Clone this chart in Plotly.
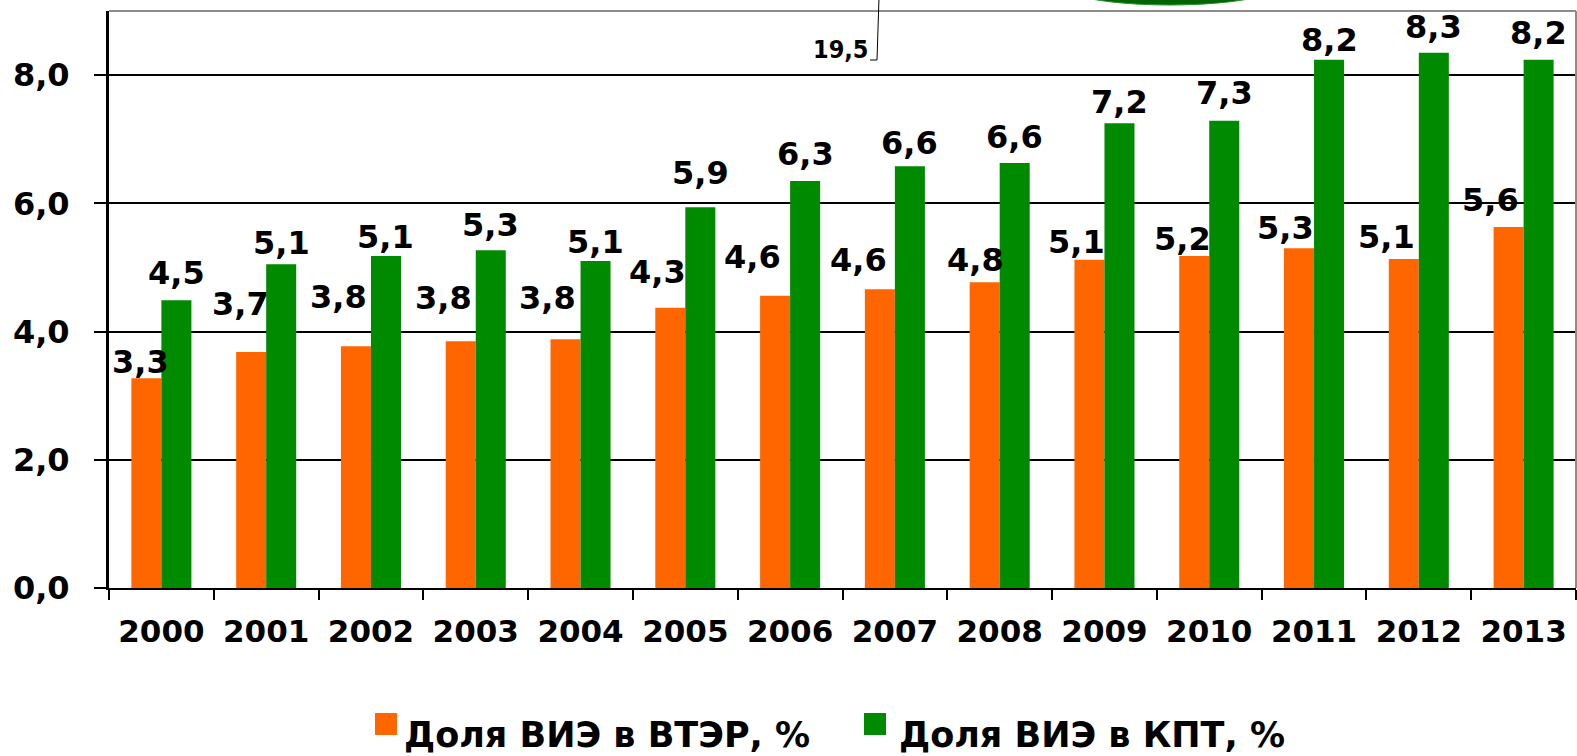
import plotly.graph_objects as go

years = ["2000", "2001", "2002", "2003", "2004", "2005", "2006",
         "2007", "2008", "2009", "2010", "2011", "2012", "2013"]
share_vter = [3.27, 3.68, 3.77, 3.85, 3.88, 4.37, 4.56, 4.66, 4.77, 5.12, 5.18, 5.30, 5.13, 5.63]
share_kpt = [4.49, 5.05, 5.18, 5.27, 5.10, 5.94, 6.35, 6.58, 6.63, 7.25, 7.29, 8.24, 8.35, 8.24]
labels_vter = ["3,3", "3,7", "3,8", "3,8", "3,8", "4,3", "4,6", "4,6", "4,8", "5,1", "5,2", "5,3", "5,1", "5,6"]
labels_kpt = ["4,5", "5,1", "5,1", "5,3", "5,1", "5,9", "6,3", "6,6", "6,6", "7,2", "7,3", "8,2", "8,3", "8,2"]
series_names = ["Доля ВИЭ в ВТЭР, %", "Доля ВИЭ в КПТ, %"]
y_ticks = [0, 2, 4, 6, 8]
y_ticktext = ["0,0", "2,0", "4,0", "6,0", "8,0"]

# label placement (pixel offsets, style only)
dx_vter = [-6, -11, -17, -17, -18, -13, -23, -21, -9, -13, -12, -14, -17, -18]
dy_vter = [16, 48, 49, 43, 41, 36, 39, 29, 22, 18, 17, 20, 22, 27]
dy_kpt = [27, 21, 19, 25, 19, 34, 27, 23, 26, 21, 28, 20, 26, 27]

ORANGE = "#FF6600"
GREEN = "#008A00"
FONT = "DejaVu Sans"

W, H = 1577, 756
ML, MR, MT, MB = 109, 1, 11, 168
PW, PH = W - ML - MR, H - MT - MB


def px(x):
    return (x - ML) / PW


def py(y):
    return (H - MB - y) / PH


fig = go.Figure()
fig.add_trace(go.Bar(x=years, y=share_vter, name=series_names[0],
                     marker=dict(color=ORANGE, line=dict(width=0)), showlegend=False))
fig.add_trace(go.Bar(x=years, y=share_kpt, name=series_names[1],
                     marker=dict(color=GREEN, line=dict(width=0)), showlegend=False))

annotations = []
lab_font = dict(family=FONT, size=32, color="black", weight="bold")
for i, yr in enumerate(years):
    # category axis: annotation x given as the category's serial index
    annotations.append(dict(x=i, y=share_vter[i], xref="x", yref="y", text=labels_vter[i],
                            showarrow=False, xanchor="center", yanchor="middle",
                            xshift=-15 + dx_vter[i], yshift=dy_vter[i], font=lab_font))
    annotations.append(dict(x=i, y=share_kpt[i], xref="x", yref="y", text=labels_kpt[i],
                            showarrow=False, xanchor="center", yanchor="middle",
                            xshift=15, yshift=dy_kpt[i], font=lab_font))

# custom legend
leg_font = dict(family=FONT, size=35, color="black", weight="bold")
shapes = []
for sq_x, txt_x, col, name in [(375, 402, ORANGE, series_names[0]), (864, 897, GREEN, series_names[1])]:
    shapes.append(dict(type="rect", xref="paper", yref="paper",
                       x0=px(sq_x), x1=px(sq_x + 22), y0=py(735), y1=py(713),
                       fillcolor=col, line=dict(width=0)))
    annotations.append(dict(x=px(txt_x), y=py(735), xref="paper", yref="paper", text=name,
                            showarrow=False, xanchor="left", yanchor="middle", font=leg_font))

# plot-area border (top and right, gray)
shapes.append(dict(type="line", xref="paper", yref="paper", x0=0, x1=1, y0=1, y1=1,
                   line=dict(color="#8C8C8C", width=2)))
shapes.append(dict(type="line", xref="paper", yref="paper", x0=1, x1=1, y0=0, y1=1,
                   line=dict(color="#8C8C8C", width=2)))

# cropped fragments from the slide above the chart
shapes.append(dict(type="circle", xref="paper", yref="paper",
                   x0=px(1060), x1=px(1280), y0=py(5), y1=py(-35),
                   fillcolor="#006400", line=dict(color="#2E8B2E", width=1)))
shapes.append(dict(type="path", xref="paper", yref="paper",
                   path=f"M {px(879)},{py(-2)} L {px(877)},{py(60)} L {px(870)},{py(60)}",
                   line=dict(color="black", width=1)))
annotations.append(dict(x=px(841), y=py(50), xref="paper", yref="paper", text="19,5",
                        showarrow=False, xanchor="center", yanchor="middle",
                        font=dict(family="DejaVu Sans Condensed", size=25, color="black", weight="bold")))

fig.update_layout(
    width=W, height=H,
    margin=dict(l=ML, r=MR, t=MT, b=MB, autoexpand=False),
    paper_bgcolor="white", plot_bgcolor="white",
    barmode="group", bargap=0.427, bargroupgap=0,
    showlegend=False,
    annotations=annotations, shapes=shapes,
)
fig.update_xaxes(type="category", range=[-0.5, len(years) - 0.5], tickson="boundaries",
                 ticks="outside", ticklen=10, tickwidth=2, tickangle=0,
                 tickcolor="black", showline=True, linecolor="black", linewidth=2,
                 showgrid=False, ticklabelstandoff=15,
                 tickfont=dict(family=FONT, size=31, color="black", weight="bold"))
fig.update_yaxes(range=[0, 9], tickvals=y_ticks, ticktext=y_ticktext, ticks="outside", ticklen=12,
                 tickwidth=2, tickcolor="black", showline=True, linecolor="black", linewidth=3,
                 showgrid=True, gridcolor="black", gridwidth=2, zeroline=False,
                 ticklabelstandoff=18,
                 tickfont=dict(family=FONT, size=32, color="black", weight="bold"))

fig.write_html("out.html", config={"displayModeBar": False},
               post_script="document.body.style.margin='0';document.body.style.overflow='hidden';")
